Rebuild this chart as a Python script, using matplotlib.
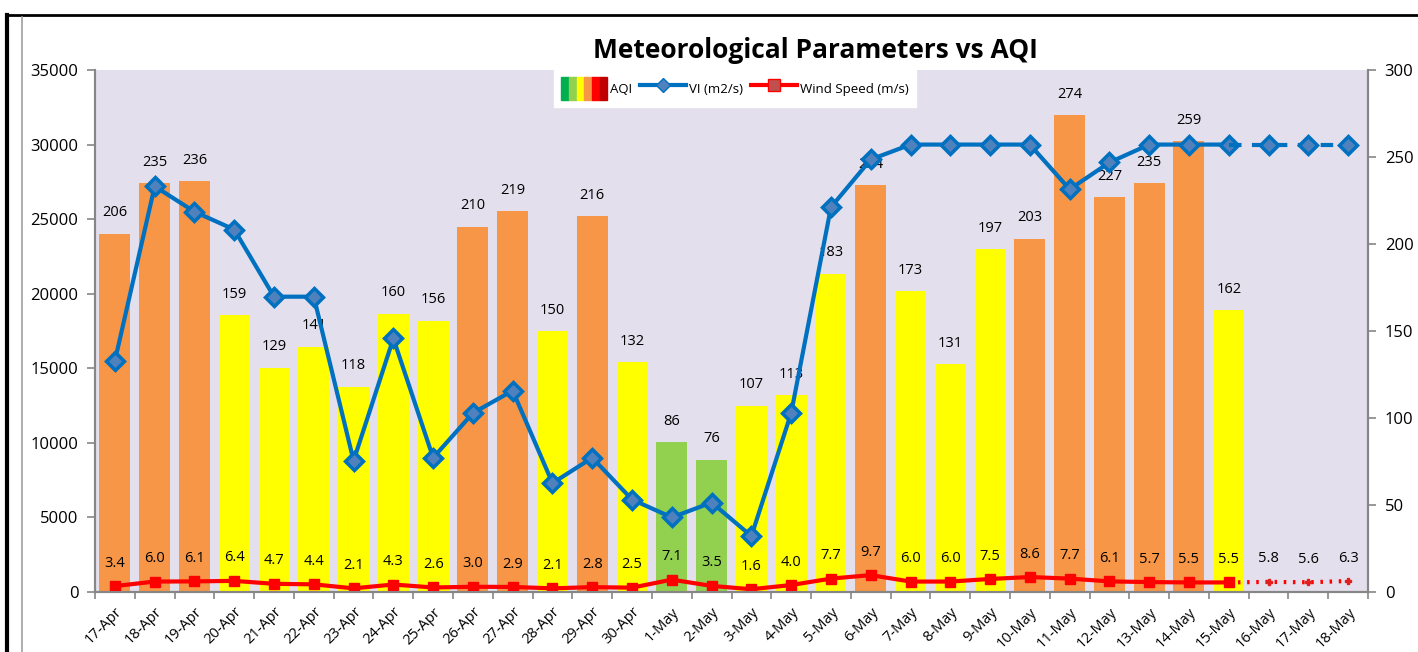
import numpy as np
import matplotlib.pyplot as plt
from matplotlib.patches import Patch
from matplotlib.lines import Line2D
from matplotlib.legend_handler import HandlerTuple

plt.rcParams['font.family'] = ['Open Sans', 'DejaVu Sans']

dates = ['17-Apr', '18-Apr', '19-Apr', '20-Apr', '21-Apr', '22-Apr', '23-Apr', '24-Apr',
         '25-Apr', '26-Apr', '27-Apr', '28-Apr', '29-Apr', '30-Apr', '1-May', '2-May',
         '3-May', '4-May', '5-May', '6-May', '7-May', '8-May', '9-May', '10-May',
         '11-May', '12-May', '13-May', '14-May', '15-May', '16-May', '17-May', '18-May']
aqi = [206, 235, 236, 159, 129, 141, 118, 160, 156, 210, 219, 150, 216, 132, 86, 76,
       107, 113, 183, 234, 173, 131, 197, 203, 274, 227, 235, 259, 162]
vi = [15500, 27200, 25500, 24300, 19800, 19800, 8800, 17000, 9000, 12000, 13500, 7300,
      9000, 6200, 5000, 6000, 3750, 12000, 25800, 29000, 30000, 30000, 30000, 30000,
      27000, 28800, 30000, 30000, 30000, 30000, 30000, 30000]
wind = [3.4, 6.0, 6.1, 6.4, 4.7, 4.4, 2.1, 4.3, 2.6, 3.0, 2.9, 2.1, 2.8, 2.5, 7.1, 3.5,
        1.6, 4.0, 7.7, 9.7, 6.0, 6.0, 7.5, 8.6, 7.7, 6.1, 5.7, 5.5, 5.5, 5.8, 5.6, 6.3]
n_obs = 29  # observed days, rest is forecast


def aqi_color(v):
    if v <= 50:
        return '#00B050'
    elif v <= 100:
        return '#92D050'
    elif v <= 200:
        return '#FFFF00'
    elif v <= 300:
        return '#F79646'
    elif v <= 400:
        return '#FF0000'
    return '#C00000'


fig = plt.figure(figsize=(14.18, 6.52), dpi=100)
ax = fig.add_axes([95 / 1418, 60 / 652, (1368 - 95) / 1418, (592 - 70) / 652])
ax.set_facecolor('#E4DFEC')
ax2 = ax.twinx()

x = np.arange(len(dates))
gray = '#868686'

# AQI bars on the right scale
ax.bar(x[:n_obs], aqi, width=0.78, color=[aqi_color(v) for v in aqi], zorder=1)
for i, v in enumerate(aqi):
    ax.annotate(str(v), (i, v), xytext=(0, 15), textcoords='offset points',
                ha='center', va='center', fontsize=10.5)

# wind speed on the right scale
ax.plot(x[:n_obs], wind[:n_obs], color='#FF0000', lw=3, marker='s', ms=7,
        mfc='#FF0000', mec='#FF0000', zorder=3)
ax.plot(x[n_obs - 1:], wind[n_obs - 1:], color='#FF0000', lw=3, ls=(0, (0.6, 1.6)),
        zorder=3)
ax.plot(x[n_obs:], wind[n_obs:], ls='none', marker='P', ms=5, color='#E02020', zorder=3)
for i, v in enumerate(wind):
    ax.annotate('%.1f' % v, (i, v), xytext=(0, 16.5), textcoords='offset points',
                ha='center', va='center', fontsize=10.5)

# VI on the left scale
ax2.plot(x[:n_obs], vi[:n_obs], color='#0070C0', lw=3, marker='D', ms=9,
         mfc='#4F81BD', mec='#0070C0', mew=2.5, zorder=4)
ax2.plot(x[n_obs - 1:], vi[n_obs - 1:], color='#0070C0', lw=3, ls=(0, (3, 2.5)),
         zorder=4)
ax2.plot(x[n_obs:], vi[n_obs:], ls='none', marker='D', ms=9, mfc='#4F81BD',
         mec='#0070C0', mew=2.5, zorder=4)

ax.set_xlim(-0.5, len(dates) - 0.5)
ax.set_ylim(0, 300)
ax2.set_ylim(0, 35000)
ax.set_yticks(range(0, 301, 50))
ax2.set_yticks(range(0, 35001, 5000))

ax.yaxis.tick_right()
ax2.yaxis.tick_left()

ax.set_xticks(x)
ax.set_xticklabels(dates, rotation=45, ha='right', rotation_mode='anchor', fontsize=10.5)
ax.set_xticks(np.arange(-0.5, len(dates), 1), minor=True)
ax.tick_params(axis='x', which='major', length=0, pad=9)
ax.tick_params(axis='x', which='minor', length=5, color=gray, width=1.2)
ax.tick_params(axis='y', length=6, color=gray, width=1.2, labelsize=12, pad=6)
ax2.tick_params(axis='y', length=6, color=gray, width=1.2, labelsize=12, pad=6)

for a in (ax, ax2):
    a.spines['top'].set_visible(False)
    for s in ('left', 'right', 'bottom'):
        a.spines[s].set_color(gray)
        a.spines[s].set_linewidth(1.5)

fig.text(815 / 1418, 1 - 50 / 652, 'Meteorological Parameters vs AQI', ha='center',
         va='center', fontsize=19, fontweight='bold')

# legend
aqi_patches = tuple(Patch(color=c) for c in
                    ['#00B050', '#92D050', '#FFFF00', '#F79646', '#FF0000', '#C00000'])
vi_handle = Line2D([], [], color='#0070C0', lw=3, marker='D', ms=7, mfc='#4F81BD',
                   mec='#0070C0')
ws_handle = Line2D([], [], color='#FF0000', lw=3, marker='s', ms=8, mfc='#C0504D',
                   mec='#FF0000')
leg = ax.legend([aqi_patches, vi_handle, ws_handle], ['AQI', 'VI (m2/s)', 'Wind Speed (m/s)'],
                handler_map={tuple: HandlerTuple(ndivide=None, pad=0)},
                loc='upper left', bbox_to_anchor=((554 - 95) / 1273, 1.0), ncol=3,
                frameon=True, fancybox=False, edgecolor='white', framealpha=1,
                fontsize=9.5, handlelength=3.5, handleheight=2.3, columnspacing=0.6,
                handletextpad=0.2, borderpad=0.55, borderaxespad=0)
leg.set_zorder(10)

# outer frame lines
fig.add_artist(Line2D([7.5 / 1418, 7.5 / 1418], [0, 1 - 15 / 652], color='black', lw=3))
fig.add_artist(Line2D([7.5 / 1418, 1], [1 - 15 / 652, 1 - 15 / 652], color='black', lw=2))
fig.add_artist(Line2D([22 / 1418, 22 / 1418], [0, 1 - 17 / 652], color='#A0A0A0', lw=1.2))

fig.savefig('out.png', dpi=100)
